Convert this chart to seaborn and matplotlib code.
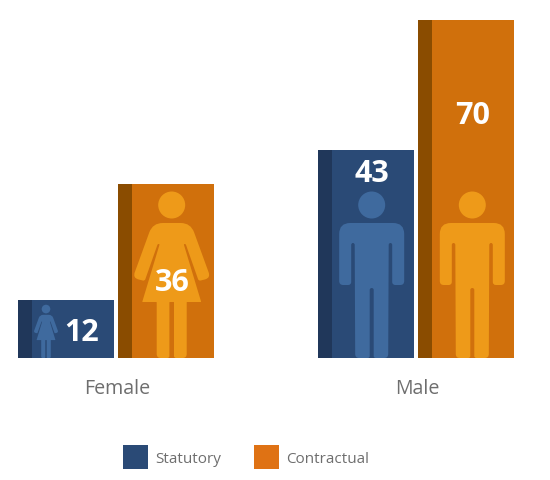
import matplotlib
matplotlib.use("Agg")
import matplotlib.pyplot as plt
import numpy as np
import pandas as pd
import seaborn as sns
from matplotlib.patches import Circle, PathPatch, Patch, Rectangle
from matplotlib.path import Path
from matplotlib.transforms import Affine2D, ScaledTranslation

genders = ["Female", "Male"]
contract_types = ["Statutory", "Contractual"]
statutory = [12, 43]
contractual = [36, 70]

BAR_COLORS = ["#2a4a76", "#d0700c"]
STRIP_COLORS = ["#20375a", "#8a4c00"]
FIGURE_COLORS = ["#3f6a9e", "#ee9a19"]
LEGEND_COLORS = ["#2a4a76", "#df7214"]
TEXT_COLOR = "#6e6e6e"

PX_PER_CATEGORY = 300.0
PX_PER_UNIT = 4.83
STRIP_PX = 14.0

sns.set_theme(style="white")
plt.rcParams["font.family"] = ["Open Sans", "DejaVu Sans"]

table = pd.DataFrame({
    "gender": genders * 2,
    "kind": [contract_types[0]] * 2 + [contract_types[1]] * 2,
    "days": statutory + contractual,
})

fig = plt.figure(figsize=(5.5, 4.81), dpi=100)
ax = fig.add_axes([0, 122 / 481, 1, 359 / 481])
sns.barplot(data=table, x="gender", y="days", hue="kind", order=genders,
            hue_order=contract_types, palette=BAR_COLORS, saturation=1,
            width=2 / 3, gap=0.04, legend=False, linewidth=0, edgecolor="none", ax=ax)
ax.set_xlim(-116 / PX_PER_CATEGORY, 434 / PX_PER_CATEGORY)
ax.set_ylim(0, 359 / PX_PER_UNIT)
ax.set_xlabel("")
ax.set_ylabel("")
ax.set_yticks([])
ax.tick_params(axis="x", length=0, pad=14.3, labelsize=14.1, labelcolor=TEXT_COLOR)
sns.despine(ax=ax, left=True, bottom=True, top=True, right=True)

# Nudge the category names slightly to the right of the group centres.
label_nudge = ScaledTranslation(0.8 / 72, 0, fig.dpi_scale_trans)
for tick_label in ax.get_xticklabels():
    tick_label.set_transform(tick_label.get_transform() + label_nudge)


def rounded_path(points):
    """Closed outline from (x, y, corner radius) triples, with quadratic corners."""
    n = len(points)
    verts, codes = [], []
    for i in range(n):
        p = np.array(points[i][:2], float)
        radius = points[i][2]
        prev_pt = np.array(points[i - 1][:2], float)
        next_pt = np.array(points[(i + 1) % n][:2], float)
        into = prev_pt - p
        out = next_pt - p
        r_in = min(radius, np.linalg.norm(into) / 2)
        r_out = min(radius, np.linalg.norm(out) / 2)
        start = p + into / np.linalg.norm(into) * r_in
        end = p + out / np.linalg.norm(out) * r_out
        verts.append(start)
        codes.append(Path.MOVETO if i == 0 else Path.LINETO)
        verts += [p, end]
        codes += [Path.CURVE3, Path.CURVE3]
    verts.append(verts[0])
    codes.append(Path.CLOSEPOLY)
    return Path(verts, codes)


def mirrored(right_side):
    """Right-hand half running foot-to-head, completed with its mirror image."""
    left_side = [(-x, y, r) for x, y, r in reversed(right_side)]
    return right_side + left_side


MALE_OUTLINE = rounded_path(mirrored([
    (2, 70, 2), (2, 0, 2), (16.5, 0, 4), (17, 115, 2), (20.5, 115, 2),
    (20.5, 73, 3), (32.5, 73, 4), (32.5, 135, 11),
]))
FEMALE_OUTLINE = rounded_path(mirrored([
    (2.3, 56, 0.5), (2.3, 0, 2), (15, 0, 4), (15, 56, 0.5), (29.5, 56, 0.5),
    (12, 114, 1), (14, 114, 1), (27, 77, 2), (39, 80, 6), (19, 135, 10),
]))
HEAD_CENTRE_PX = 153.0
HEAD_RADIUS_PX = 13.5


def draw_person(outline, centre_x, scale, color):
    """Place a pictogram with its feet on the baseline, centred on centre_x."""
    to_data = (Affine2D().scale(scale / PX_PER_CATEGORY, scale / PX_PER_UNIT)
               .translate(centre_x, 0) + ax.transData)
    ax.add_patch(PathPatch(outline, facecolor=color, edgecolor="none",
                           transform=to_data, zorder=4))
    ax.add_patch(Circle((0, HEAD_CENTRE_PX), HEAD_RADIUS_PX, facecolor=color,
                        edgecolor="none", transform=to_data, zorder=4))


# Per-bar pictogram: outline, horizontal shift in px, scale.
# Per-bar label: horizontal shift in px, height of the label centre in px.
bar_styles = {
    (0, 0): dict(outline=FEMALE_OUTLINE, shift=-20, scale=0.32, label=(16, 29)),
    (0, 1): dict(outline=FEMALE_OUTLINE, shift=5.7, scale=1.0, label=(6, 79)),
    (1, 0): dict(outline=MALE_OUTLINE, shift=5.7, scale=1.0, label=(6, 188)),
    (1, 1): dict(outline=MALE_OUTLINE, shift=6.3, scale=1.0, label=(7, 246)),
}

for kind_idx, container in enumerate(ax.containers):
    for gender_idx, bar in enumerate(container):
        ax.add_patch(Rectangle((bar.get_x(), 0), STRIP_PX / PX_PER_CATEGORY,
                               bar.get_height(), facecolor=STRIP_COLORS[kind_idx],
                               edgecolor="none", zorder=3))
        style = bar_styles[(gender_idx, kind_idx)]
        centre = bar.get_x() + bar.get_width() / 2
        draw_person(style["outline"], centre + style["shift"] / PX_PER_CATEGORY,
                    style["scale"], FIGURE_COLORS[kind_idx])
        dx, up = style["label"]
        ax.text(centre + dx / PX_PER_CATEGORY, up / PX_PER_UNIT,
                f"{bar.get_height():.0f}", ha="center", va="center_baseline",
                color="white", fontsize=22, fontweight="bold", zorder=5)

handles = [Patch(facecolor=c, edgecolor="none") for c in LEGEND_COLORS]
fig.legend(handles, contract_types, loc="center", bbox_to_anchor=(246 / 550, 23 / 481),
           ncols=2, frameon=False, handlelength=1.6, handleheight=2.13, handletextpad=0.46,
           columnspacing=2.2, borderpad=0, prop={"size": 11},
           labelcolor=TEXT_COLOR)

fig.savefig("out.png", dpi=100, facecolor="white")
